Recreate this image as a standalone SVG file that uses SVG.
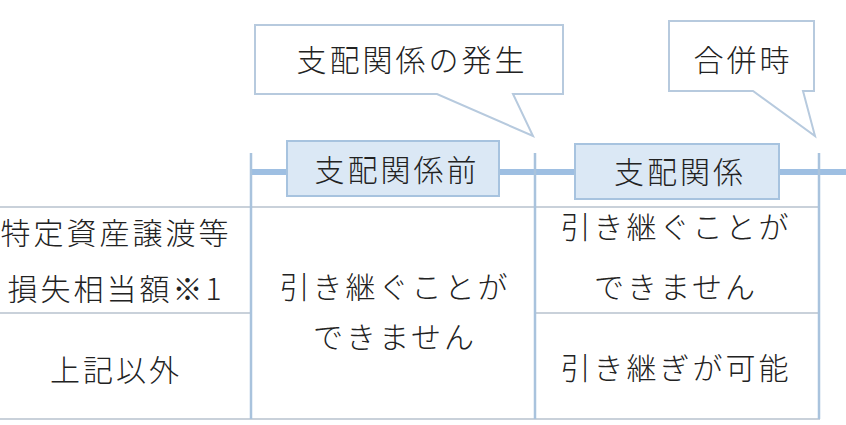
<svg xmlns="http://www.w3.org/2000/svg" width="846" height="425" viewBox="0 0 846 425">
<style>
text{font-family:"Noto Sans CJK JP","Noto Sans",sans-serif;fill:#222;text-anchor:middle;font-size:30px;letter-spacing:3px;font-weight:300}
.callout{fill:#fff;stroke:#b7cade;stroke-width:2}
.hdr{fill:#dbe8f5;stroke:#a7c3df;stroke-width:2}
.tick{stroke:#a9c3dd;stroke-width:2.5}
.grid{stroke:#c9d1da;stroke-width:2}
.tl{stroke:#9ebfe2;stroke-width:6}
</style>
<rect width="846" height="425" fill="#fff"/>
<g id="connectors">
<line class="tl" x1="251" y1="172" x2="846" y2="172"/>
<line class="grid" x1="0" y1="207" x2="820" y2="207"/>
<line class="grid" x1="0" y1="313" x2="251" y2="313"/>
<line class="grid" x1="535" y1="313" x2="820" y2="313"/>
<line class="grid" x1="0" y1="419" x2="820" y2="419"/>
<line class="tick" x1="251" y1="153" x2="251" y2="419"/>
<line class="tick" x1="535" y1="153" x2="535" y2="419"/>
<line class="tick" x1="819" y1="153" x2="819" y2="419"/>
</g>
<g id="callout-hassei">
<path class="callout" d="M255,25 H563 V94 H513 L533,136 L437,94 H255 Z"/>
<text x="412" y="71" letter-spacing="3.5">支配関係の発生</text>
</g>
<g id="callout-gappei">
<path class="callout" d="M669,21 H814 V91 H803 L815,136 L753,91 H669 Z"/>
<text x="743" y="71">合併時</text>
</g>
<g id="hdr-mae">
<rect class="hdr" x="287" y="141" width="212" height="55"/>
<text x="397" y="181" letter-spacing="5">支配関係前</text>
</g>
<g id="hdr-kankei">
<rect class="hdr" x="575" y="144" width="204" height="55"/>
<text x="680" y="183" letter-spacing="5">支配関係</text>
</g>
<g id="row1-label">
<text x="116" y="244">特定資産譲渡等</text>
<text x="116" y="300">損失相当額※1</text>
</g>
<g id="row2-label">
<text x="116" y="381">上記以外</text>
</g>
<g id="mid-cell">
<text x="395" y="298">引き継ぐことが</text>
<text x="395" y="348">できません</text>
</g>
<g id="right-cell1">
<text x="676" y="238">引き継ぐことが</text>
<text x="676" y="298">できません</text>
</g>
<g id="right-cell2">
<text x="676" y="379">引き継ぎが可能</text>
</g>
</svg>
